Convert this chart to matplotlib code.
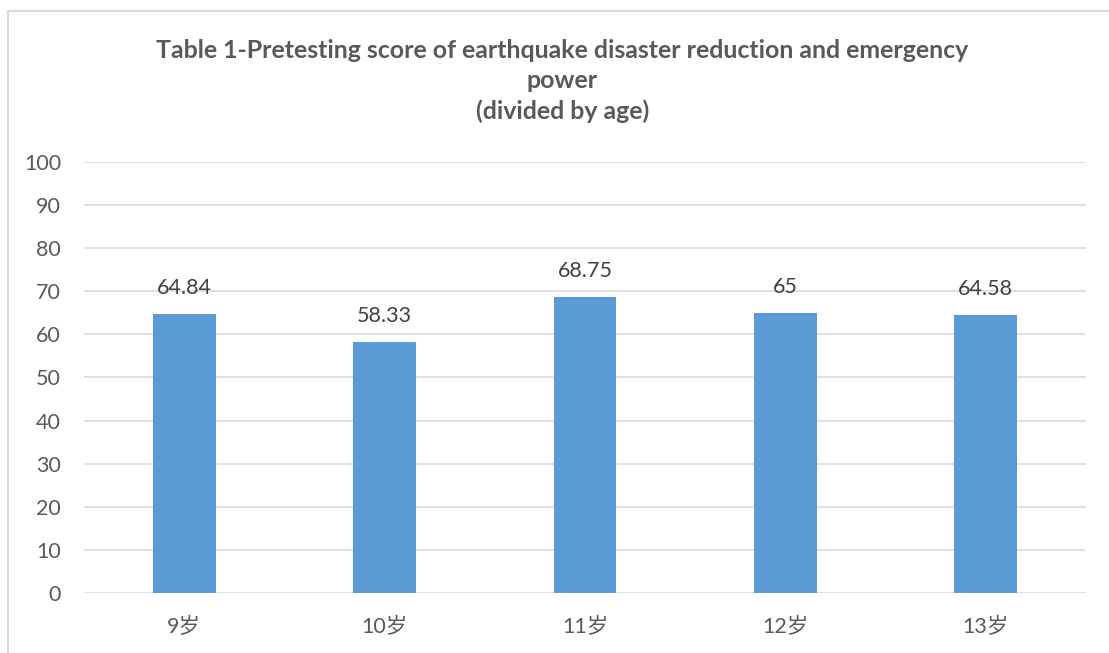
import matplotlib
matplotlib.use('Agg')
from matplotlib import pyplot as plt
from matplotlib.patches import Rectangle
import numpy as np

plt.rcParams['font.family'] = ['Lato', 'Noto Sans CJK SC', 'DejaVu Sans']

# chart data
ages = ['9岁', '10岁', '11岁', '12岁', '13岁']
scores = [64.84, 58.33, 68.75, 65, 64.58]
score_labels = ['64.84', '58.33', '68.75', '65', '64.58']

grey = '#595959'
blue = '#5B9BD5'

fig = plt.figure(figsize=(11.09, 6.53), dpi=100)
ax = fig.add_axes([0.0757, 0.0919, 0.9036, 0.66])

ind = np.arange(len(scores))
ax.bar(ind, scores, 0.314, color=blue, zorder=3)
for x, y, s in zip(ind, scores, score_labels):
    ax.text(x, y + 5.9, s, ha='center', va='center', fontsize=15.5, color='#404040')

ax.set_xlim(-0.5, len(ind) - 0.5)
ax.set_ylim(0, 100)
ax.set_yticks(range(0, 101, 10))
ax.set_xticks(ind)
ax.set_xticklabels(ages)
ax.yaxis.grid(True, color='#D9D9D9', linewidth=1.2, zorder=0)
for sp in ax.spines.values():
    sp.set_visible(False)
ax.tick_params(length=0, labelsize=15.5, colors=grey)
ax.tick_params(axis='y', pad=16.5)
ax.tick_params(axis='x', pad=17)

fig.text(0.507, 0.876, 'Table 1-Pretesting score of earthquake disaster reduction and emergency\npower\n(divided by age)',
         ha='center', va='center', fontsize=17.9, fontweight='bold', color=grey, linespacing=1.38)

# outer frame like the office chart border (top and left edges visible)
fig.patches.append(Rectangle((8 / 1109, -0.05), 1.2, 1.05 - 11 / 653,
                             transform=fig.transFigure, fill=False, edgecolor='#D9D9D9', linewidth=1.5))

fig.savefig('out.png', dpi=100)
